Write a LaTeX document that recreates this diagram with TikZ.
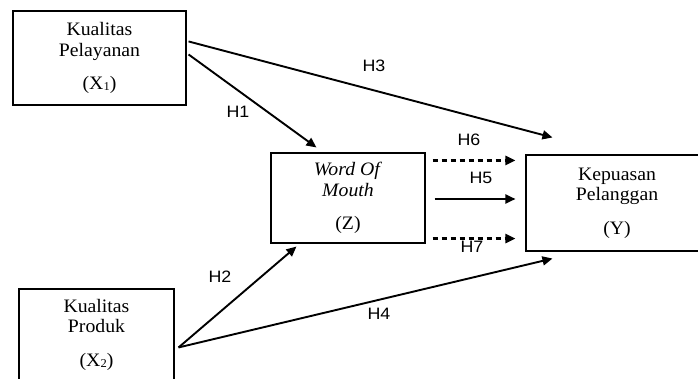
\documentclass[tikz,border=0pt]{standalone}
\usepackage{fontspec}
\setmainfont{Liberation Serif}[FakeStretch=1.04]
\newfontfamily\labfont{Liberation Sans}[FakeStretch=1.08]
\usetikzlibrary{arrows.meta,calc}
\newcommand\subd[1]{\raisebox{-0.15ex}{\fontsize{12}{12}\selectfont #1}}
\begin{document}
\begin{tikzpicture}[x=1pt,y=-1pt,
  box/.style={draw,line width=1.1pt,inner sep=0pt,align=center,font=\fontsize{19}{20.5}\selectfont},
  arr/.style={line width=1.9pt,-{Triangle[length=10pt,width=9pt]}},
  darr/.style={arr,line width=2.3pt,dash pattern=on 5.5pt off 3.5pt},
  lab/.style={font=\labfont\fontsize{16.5}{17}\selectfont,inner sep=0pt}]
\useasboundingbox (0,0) rectangle (698,379);
\node[box,minimum width=173pt,minimum height=94pt] (x1) at (99.5,58) {Kualitas\\Pelayanan\\[13pt](X\subd{1})};
\node[box,minimum width=155pt,minimum height=91pt] (x2) at (96.5,334.5) {Kualitas\\Produk\\[13pt](X\subd{2})};
\node[box,minimum width=154pt,minimum height=90pt] (z) at (348,198) {\textit{Word Of}\\\textit{Mouth}\\[13pt](Z)};
\node[box,minimum width=182pt,minimum height=96pt] (y) at (617,203) {Kepuasan\\Pelanggan\\[13pt](Y)};
% connectors
\draw[arr] ($(x1.north east)+(2,31)$) -- ($(y.north west)+(27,-17)$);
\draw[arr] ($(x1.north east)+(2,44)$) -- ($(z.north west)+(46,-5)$);
\draw[darr] ($(z.north east)+(7,8)$) -- ($(y.north west)+(-10,6)$);
\draw[arr] ($(z.east)+(9,1)$) -- ($(y.west)+(-10,-4)$);
\draw[darr] ($(z.south east)+(7,-5)$) -- ($(y.south west)+(-10,-13)$);
\draw[arr] ($(x2.north east)+(4,59)$) -- ($(z.south west)+(26,3)$);
\draw[arr] ($(x2.north east)+(4,59)$) -- ($(y.south west)+(27,7)$);
% labels
\node[lab] (h3) at (374,66) {H3};
\node[lab] (h1) at (238,112) {H1};
\node[lab] (h6) at (469,140) {H6};
\node[lab] (h5) at (481,178) {H5};
\node[lab] (h7) at (472,247) {H7};
\node[lab] (h2) at (220,277) {H2};
\node[lab] (h4) at (379,314) {H4};
\end{tikzpicture}
\end{document}
